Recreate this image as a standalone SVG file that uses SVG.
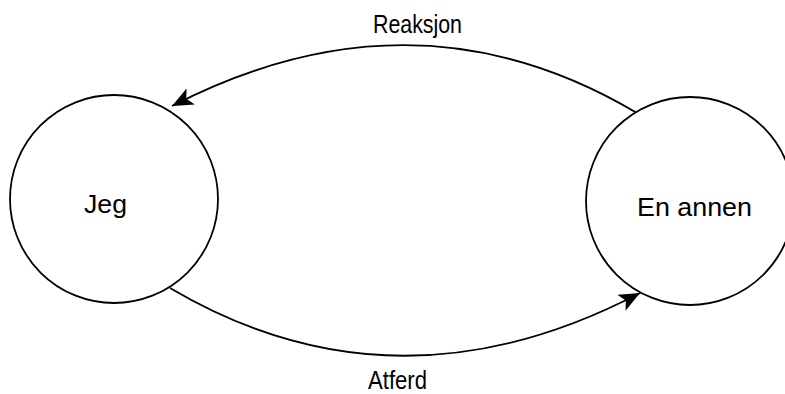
<svg xmlns="http://www.w3.org/2000/svg" width="785" height="394" viewBox="0 0 785 394">
<style>
.node{fill:#fff;stroke:#000;stroke-width:1.8}
.edge{fill:none;stroke:#000;stroke-width:1.8}
.lbl{font-family:"Liberation Sans",Arial,sans-serif;font-size:26px;fill:#000}
</style>
<defs>
<marker id="ah" markerUnits="userSpaceOnUse" markerWidth="24" markerHeight="20" refX="21" refY="9" orient="auto">
<path d="M0,0 L21,9 L0,18 L5,9 Z" fill="#000"/>
</marker>
</defs>
<rect width="785" height="394" fill="#fff"/>
<g id="connectors">
<path class="edge" d="M637,113 Q415,-19 172,106" marker-end="url(#ah)"/>
<path class="edge" d="M170,288 Q395,421 640,293" marker-end="url(#ah)"/>
<text class="lbl" x="373" y="33" textLength="89" lengthAdjust="spacingAndGlyphs">Reaksjon</text>
<text class="lbl" x="368" y="389" textLength="59" lengthAdjust="spacingAndGlyphs">Atferd</text>
</g>
<g id="jeg">
<circle class="node" cx="114" cy="199" r="104"/>
<text class="lbl" x="84" y="213" textLength="43" lengthAdjust="spacingAndGlyphs">Jeg</text>
</g>
<g id="en-annen">
<circle class="node" cx="690" cy="201" r="104"/>
<text class="lbl" x="637" y="216" textLength="115" lengthAdjust="spacingAndGlyphs">En annen</text>
</g>
</svg>
